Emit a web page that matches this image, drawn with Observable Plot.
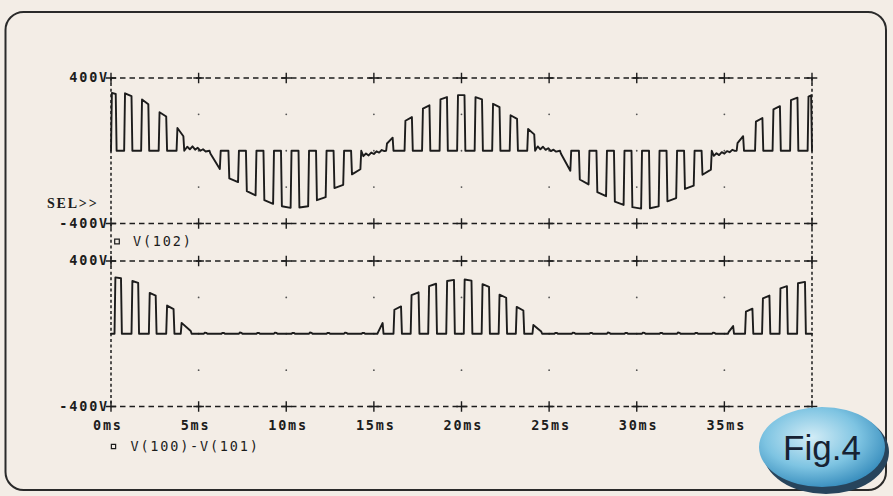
<!DOCTYPE html>
<html><head><meta charset="utf-8">
<script src="https://cdn.jsdelivr.net/npm/d3@7"></script>
<script src="https://cdn.jsdelivr.net/npm/@observablehq/plot@0.6"></script>
<style>
html,body{margin:0;padding:0;background:#f3ede6;}
#wrap{position:relative;width:893px;height:496px;overflow:hidden;background:#f3ede6;}
#deco,#badge{position:absolute;left:0;top:0;pointer-events:none;}
#chart{position:absolute;left:0;top:0;}
#chart svg text{letter-spacing:1.8px;}
</style></head>
<body>
<div id="wrap">
<svg id="deco" width="893" height="496"><rect x="5.5" y="12" width="880.5" height="478" rx="18" ry="18" fill="none" stroke="#2a2a2a" stroke-width="2"/></svg>
<div id="chart"></div>
<svg id="badge" width="893" height="496">
<defs><radialGradient id="bgr" cx="42%" cy="38%" r="68%"><stop offset="0" stop-color="#d2ecf6"/><stop offset="0.55" stop-color="#7ec4e2"/><stop offset="1" stop-color="#2f86b8"/></radialGradient></defs>
<ellipse cx="826" cy="452" rx="63" ry="42" fill="#27445c"/>
<ellipse cx="822" cy="447" rx="63" ry="40" fill="url(#bgr)"/>
<text x="822" y="460" text-anchor="middle" font-family="Liberation Sans, Arial, sans-serif" font-size="35" fill="#172233">Fig.4</text>
</svg>
</div>
<script>
// ---- chart data ----
const panels = ["V(102)", "V(100)-V(101)"];
const xTicks = [0, 5, 10, 15, 20, 25, 30, 35, 40];
const xLabelTicks = [0, 5, 10, 15, 20, 25, 30, 35];
const xLabels = ["0ms", "5ms", "10ms", "15ms", "20ms", "25ms", "30ms", "35ms"];
const yLimits = [400, -400];
const yLabels = ["400V", "-400V"];
const gridX = [5, 10, 15, 20, 25, 30, 35];
const gridY = [200, 0, -200];

// V(102): pulses (start ms, end ms, level at start V, level at end V)
const topOn  = [0.00, 0.75, 1.72, 2.72, 3.74,
                5.62, 6.70, 7.70, 8.70, 9.70, 10.70, 11.70, 12.70, 13.70,
                15.70, 16.75, 17.75, 18.75, 19.75, 20.75, 21.75, 22.75, 23.75,
                25.62, 26.70, 27.70, 28.70, 29.70, 30.70, 31.70, 32.70, 33.70,
                35.70, 36.75, 37.75, 38.75, 39.75];
const topOff = [0.32, 1.22, 2.18, 3.20, 4.18,
                6.26, 7.30, 8.30, 9.30, 10.30, 11.30, 12.30, 13.30, 14.28,
                16.12, 17.22, 18.22, 19.22, 20.22, 21.22, 22.22, 23.22, 24.20,
                26.26, 27.30, 28.30, 29.30, 30.30, 31.30, 32.30, 33.30, 34.28,
                36.12, 37.22, 38.22, 39.22, 40.00];
const topV1  = [318, 316, 282, 212, 125,
                -15, -152, -222, -272, -305, -312, -272, -205, -130,
                40, 165, 232, 282, 306, 295, 258, 195, 120,
                -15, -158, -228, -280, -310, -316, -278, -210, -132,
                42, 160, 228, 278, 298];
const topV2  = [312, 300, 255, 188, 80,
                -100, -172, -245, -292, -314, -305, -255, -188, -102,
                72, 185, 250, 295, 306, 282, 240, 175, 90,
                -110, -185, -250, -298, -318, -306, -260, -192, -104,
                80, 180, 245, 292, 305];
// V(102): small wiggles around the zero crossings
const topRipT = [4.35, 4.50, 4.65, 4.80, 4.95, 5.10, 5.25, 5.40,
                 14.40, 14.55, 14.70, 14.85, 15.00, 15.15, 15.30, 15.45, 15.60,
                 24.35, 24.50, 24.65, 24.80, 24.95, 25.10, 25.25, 25.40,
                 34.40, 34.55, 34.70, 34.85, 35.00, 35.15, 35.30, 35.45, 35.60];
const topRipV = [22, 8, 24, 6, 16, 0, 8, -4,
                 -30, -15, -26, -10, -18, -3, -10, 4, -2,
                 24, 8, 22, 5, 14, -2, 6, -5,
                 -28, -14, -24, -8, -16, -2, -8, 5, -1];

// V(100)-V(101): pulses
const botOn  = [0.20, 1.17, 2.16, 3.15, 3.98,
                5.30, 6.30, 7.30, 8.30, 9.30, 10.30, 11.30, 12.30, 13.30, 14.30,
                15.20, 16.12, 17.10, 18.10, 19.13, 20.13, 21.15, 22.12, 23.10, 24.05,
                25.30, 26.30, 27.30, 28.30, 29.30, 30.30, 31.30, 32.30, 33.30, 34.30,
                35.20, 36.18, 37.15, 38.15, 39.15];
const botOff = [0.62, 1.60, 2.60, 3.62, 4.60,
                5.50, 6.50, 7.50, 8.50, 9.50, 10.50, 11.50, 12.50, 13.50, 14.50,
                15.55, 16.60, 17.60, 18.60, 19.62, 20.62, 21.62, 22.60, 23.58, 24.60,
                25.50, 26.50, 27.50, 28.50, 29.50, 30.50, 31.50, 32.50, 33.50, 34.50,
                35.55, 36.65, 37.62, 38.62, 39.65];
const botV1  = [310, 290, 225, 155, 60,
                6, 5, 7, 5, 6, 5, 7, 5, 6, 5,
                10, 132, 212, 262, 290, 298, 273, 215, 148, 48,
                5, 6, 5, 7, 5, 6, 5, 7, 5, 6,
                10, 122, 195, 250, 278];
const botV2  = [305, 280, 210, 135, 15,
                4, 4, 5, 4, 4, 4, 5, 4, 4, 4,
                59, 150, 228, 275, 296, 292, 258, 198, 128, 12,
                4, 4, 4, 5, 4, 4, 4, 5, 4, 4,
                42, 138, 210, 262, 285];
const botRipT = [0.0, 40.0];
const botRipV = [0, 0];

// ---- build tables ----
const EDGE = 0.05;
function buildTrace(panel, on, off, v1, v2, ripT, ripV) {
  const pts = [];
  on.forEach((t0, i) => {
    const t1 = off[i];
    pts.push({t: t0, v: 0}, {t: Math.min(t0 + EDGE, t1), v: v1[i]},
             {t: Math.max(t1 - EDGE, t0), v: v2[i]}, {t: t1, v: 0});
  });
  ripT.forEach((t, i) => pts.push({t, v: ripV[i]}));
  pts.sort((a, b) => a.t - b.t);
  return pts.map(p => ({...p, panel}));
}
const topTrace = buildTrace(panels[0], topOn, topOff, topV1, topV2, topRipT, topRipV);
const botTrace = buildTrace(panels[1], botOn, botOff, botV1, botV2, botRipT, botRipV);
const gridPts = gridX.flatMap(x => gridY.map(y => ({x, y})));
const plusPts = xTicks.flatMap(x => yLimits.map(y => ({x, y})));
const yLab = yLimits.map((y, i) => ({y, label: yLabels[i]}));
const xLab = xLabelTicks.map((x, i) => ({x, label: xLabels[i], panel: panels[1]}));
const gapRule = [0, 40].map(x => ({x, panel: panels[0]}));

const ink = "#1c1c1c";
const mono = "DejaVu Sans Mono, monospace";

const chart = Plot.plot({
  width: 893, height: 496,
  marginLeft: 110.5, marginRight: 81.5, marginTop: 77.5, marginBottom: 90,
  style: {background: "transparent", overflow: "visible", color: ink},
  x: {domain: [0, 40], axis: null},
  y: {domain: [-400, 400], axis: null},
  fy: {domain: panels, axis: null, paddingInner: 0.205, paddingOuter: 0, round: false},
  marks: [
    Plot.ruleY(yLimits, {stroke: ink, strokeWidth: 1.4, strokeDasharray: "5.5,4"}),
    Plot.ruleX([0, 40], {x: d => d, y1: 400, y2: -400, stroke: ink, strokeWidth: 1.5, strokeDasharray: "3,2.6"}),
    Plot.ruleX(gapRule, {x: "x", fy: "panel", y1: -400, y2: -400, insetBottom: -37.5, stroke: ink, strokeWidth: 1.5, strokeDasharray: "3,2.6"}),
    Plot.dot(gridPts, {x: "x", y: "y", r: 0.9, fill: "#555", stroke: null}),
    Plot.dot(plusPts, {x: "x", y: "y", symbol: "plus", r: 3.5, stroke: ink, strokeWidth: 1.4}),
    Plot.line(topTrace, {x: "t", y: "v", fy: "panel", stroke: ink, strokeWidth: 1.9, strokeLinejoin: "round"}),
    Plot.line(botTrace, {x: "t", y: "v", fy: "panel", stroke: ink, strokeWidth: 1.9, strokeLinejoin: "round"}),
    Plot.text(yLab, {x: 0, y: "y", text: "label", textAnchor: "end", dx: -2, fontFamily: mono, fontWeight: "bold", fontSize: 13.5, fill: ink}),
    Plot.text(xLab, {x: "x", y: -400, fy: "panel", text: "label", textAnchor: "start", dx: -18, dy: 19, fontFamily: mono, fontWeight: "bold", fontSize: 13.5, fill: ink}),
    Plot.text([panels[0]], {x: 0, y: -400, fy: d => d, text: d => d, textAnchor: "start", dx: 22, dy: 18, fontFamily: mono, fontSize: 13.5, fill: ink}),
    Plot.text([panels[1]], {x: 0, y: -400, fy: d => d, text: d => d, textAnchor: "start", dx: 19.5, dy: 40, fontFamily: mono, fontSize: 13.5, fill: ink}),
    Plot.dot([panels[0]], {x: 0, y: -400, fy: d => d, dx: 6, dy: 18, symbol: "square", r: 2.6, stroke: ink, strokeWidth: 1.2, fill: "none"}),
    Plot.dot([panels[1]], {x: 0, y: -400, fy: d => d, dx: 2.5, dy: 40, symbol: "square", r: 2.4, stroke: ink, strokeWidth: 1.2, fill: "none"}),
    Plot.text(["SEL>>"], {x: 0, y: -400, fy: () => panels[0], text: d => d, textAnchor: "start", dx: -64, dy: -20, fontFamily: "Liberation Serif, serif", fontWeight: "bold", fontSize: 14, fill: ink})
  ]
});
document.getElementById("chart").appendChild(chart);
</script>
</body></html>
